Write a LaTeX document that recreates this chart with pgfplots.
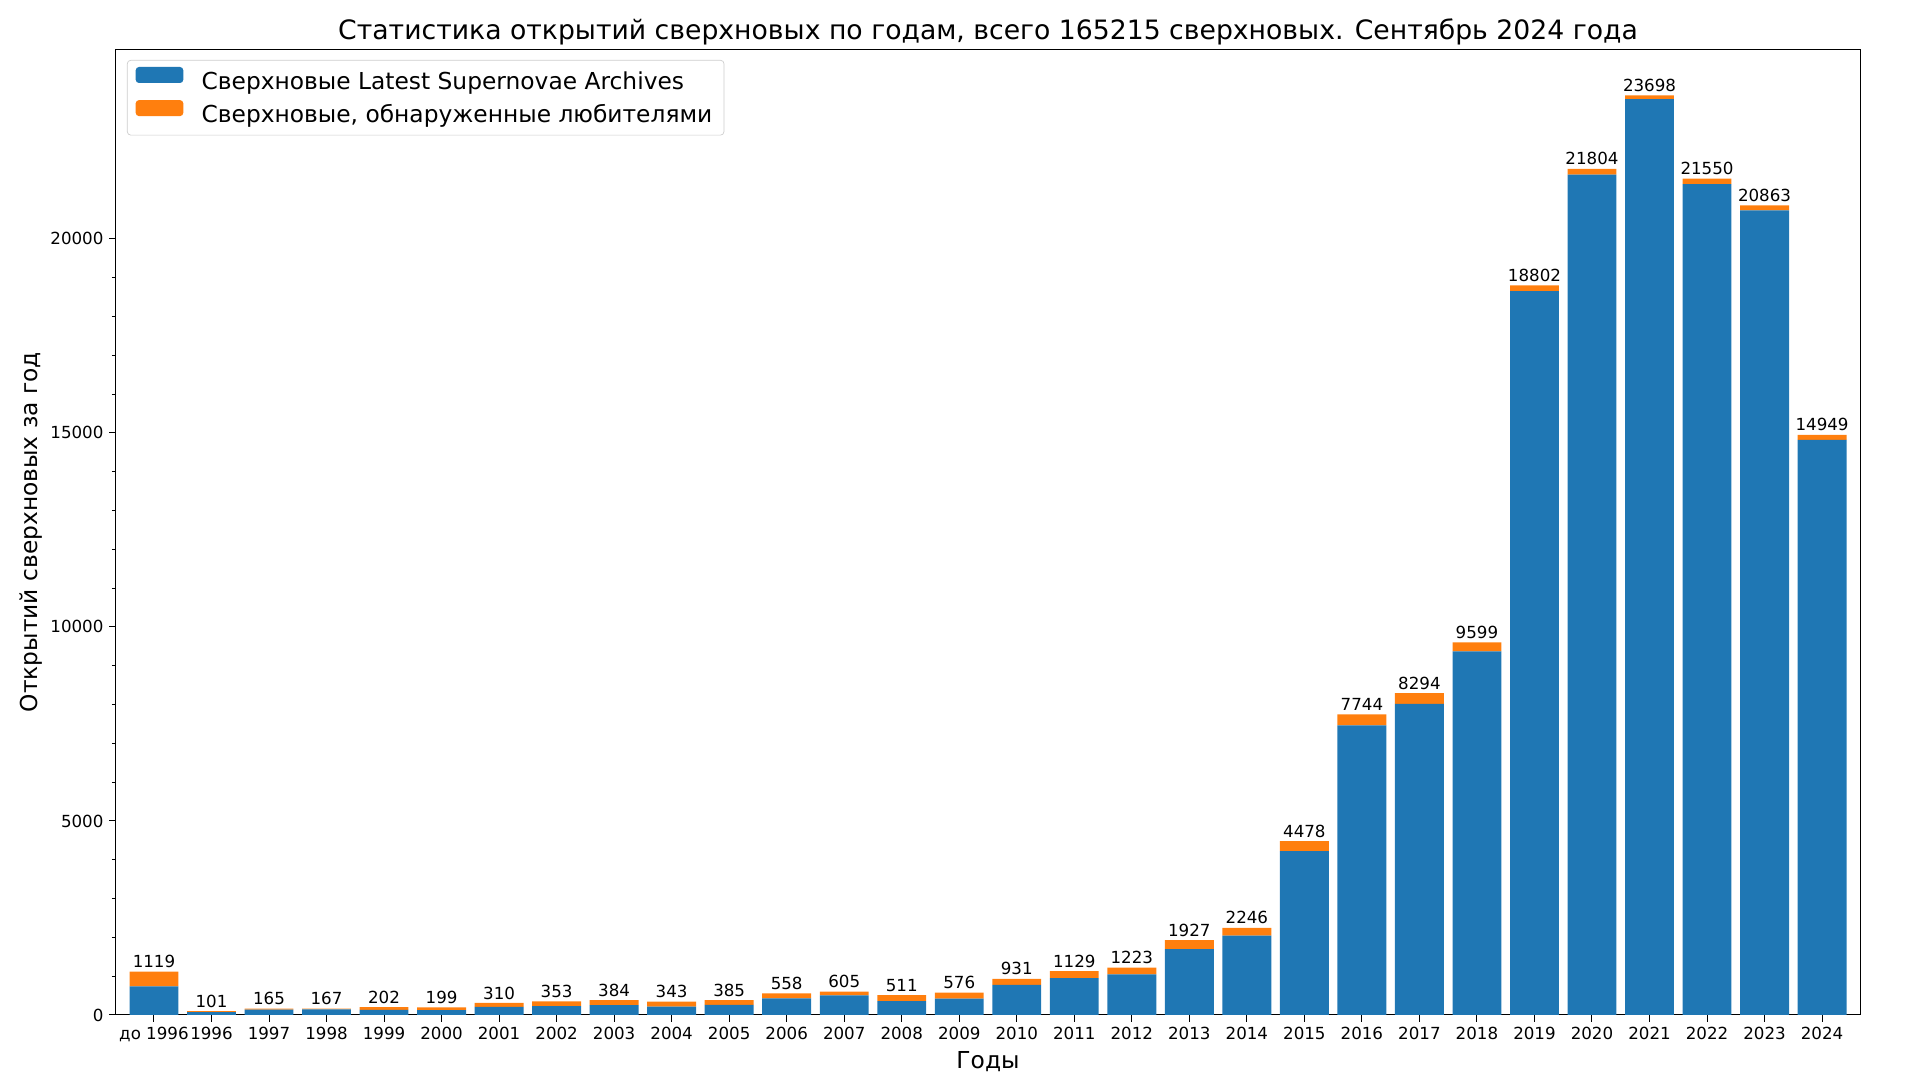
\documentclass[border=0pt]{standalone}
\usepackage{fontspec}
\setmainfont{DejaVu Sans}
\usepackage{pgfplots}
\usepackage{pgfplotstable}
\pgfplotsset{compat=1.18}
\definecolor{mplblue}{HTML}{1F77B4}
\definecolor{mplorange}{HTML}{FF7F0E}
\pgfplotstableread{
x b o t
0 740 379 1119
1 75 26 101
2 140 25 165
3 142 25 167
4 135 67 202
5 123 76 199
6 209 101 310
7 226 127 353
8 257 127 384
9 216 127 343
10 258 127 385
11 431 127 558
12 504 101 605
13 359 152 511
14 424 152 576
15 779 152 931
16 951 178 1129
17 1045 178 1223
18 1699 228 1927
19 2043 203 2246
20 4224 254 4478
21 7465 279 7744
22 8015 279 8294
23 9371 228 9599
24 18652 150 18802
25 21654 150 21804
26 23598 100 23698
27 21410 140 21550
28 20733 130 20863
29 14819 130 14949
}\data
\begin{document}
\begin{tikzpicture}
\useasboundingbox (-69.6pt,-39pt) rectangle (1082.4pt,609pt);
\begin{axis}[
  at={(0,0)}, anchor=south west,
  scale only axis,
  width=1046.4pt, height=579.4pt,
  ybar stacked,
  bar width=0.85,
  xmin=-0.66, xmax=29.66,
  ymin=0, ymax=24883,
  xtick={0,...,29},
  xticklabels={до 1996,1996,1997,1998,1999,2000,2001,2002,2003,2004,2005,2006,2007,2008,2009,2010,2011,2012,2013,2014,2015,2016,2017,2018,2019,2020,2021,2022,2023,2024},
  ytick={0,5000,10000,15000,20000},
  minor y tick num=4,
  scaled y ticks=false,
  yticklabel style={/pgf/number format/1000 sep={}},
  /pgf/number format/assume math mode=true,
  tick label style={font=\fontsize{10}{12}\selectfont},
  tick align=outside,
  xtick pos=bottom, ytick pos=left,
  major tick length=4pt, minor tick length=2.4pt,
  tick style={black, line width=0.6pt},
  axis line style={line width=0.6pt},
  xlabel={Годы}, ylabel={Открытий сверхновых за год},
  label style={font=\fontsize{14}{17}\selectfont},
  xlabel style={at={(axis description cs:0.5,0)}, anchor=center, yshift=-27.7pt},
  ylabel style={at={(axis description cs:-0.0489,0.5)}, anchor=center},
  title={Статистика открытий сверхновых по годам, всего 165215 сверхновых. Сентябрь 2024 года},
  title style={font=\fontsize{16}{19}\selectfont, at={(axis description cs:0.5,1)}, anchor=center, yshift=4.7pt},
  legend style={at={(axis description cs:0,1)}, anchor=north west, xshift=6.6pt, yshift=-6.4pt,
    draw=black!20, rounded corners=2pt, font=\fontsize{14}{17}\selectfont,
    row sep=3pt, column sep=9pt, inner xsep=5pt, inner ysep=4pt},
  legend cell align=left,
  legend image code/.code={\fill[#1] (0pt,-0.8pt) rectangle (28.6pt,8.8pt);},
]
\addplot[fill=mplblue, draw=none] table[x=x, y=b] {\data};
\addlegendentry{Сверхновые Latest Supernovae Archives}
\addplot[fill=mplorange, draw=none] table[x=x, y=o] {\data};
\addlegendentry{Сверхновые, обнаруженные любителями}
\end{axis}
\begin{axis}[
  at={(0,0)}, anchor=south west,
  scale only axis,
  width=1046.4pt, height=579.4pt,
  xmin=-0.66, xmax=29.66,
  ymin=0, ymax=24883,
  hide axis,
]
\addplot[only marks, mark=none, point meta=explicit symbolic,
  nodes near coords, nodes near coords style={font=\fontsize{10}{12}\selectfont, black, anchor=south, inner sep=2pt}]
  table[x=x, y=t, meta=t] {\data};
\end{axis}
\end{tikzpicture}
\end{document}
